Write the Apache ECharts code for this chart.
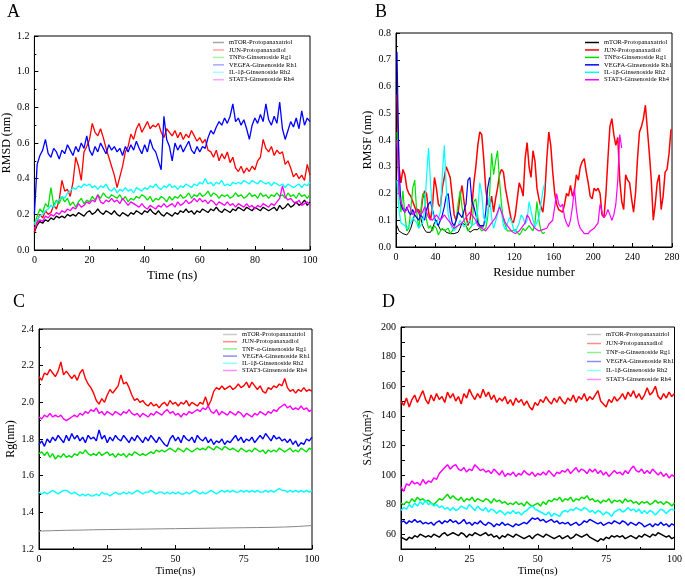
<!DOCTYPE html>
<html>
<head>
<meta charset="utf-8">
<script src="https://cdn.jsdelivr.net/npm/echarts@6/dist/echarts.min.js"></script>
<style>html,body{margin:0;padding:0;background:#fff}#c{width:685px;height:580px}</style>
</head>
<body>
<div id="c"></div>
<script>
// ---------- Names ----------
const namesAB = ['mTOR-Protopanaxatriol','JUN-Protopanaxadiol','TNFα-Ginsenoside Rg1','VEGFA-Ginsenoside Rh1','IL-1β-Ginsenoside Rh2','STAT3-Ginsenoside Rh4'];
const namesCD = ['mTOR-Protopanaxatriol','JUN-Protopanaxadiol','TNF-α-Ginsenoside Rg1','VEGFA-Ginsenoside Rh1','IL-1β-Ginsenoside Rh2','STAT3-Ginsenoside Rh4'];

// ---------- Panel A: RMSD (nm), one value per ns, 0..100 ----------
const rmsdMTOR = [0.10,0.14,0.16,0.15,0.17,0.16,0.18,0.17,0.19,0.18, 0.19,0.18,0.20,0.19,0.20,0.19,0.21,0.20,0.19,0.21, 0.22,0.20,0.21,0.23,0.21,0.20,0.22,0.21,0.20,0.22, 0.20,0.19,0.21,0.20,0.19,0.21,0.20,0.22,0.21,0.20, 0.22,0.21,0.23,0.21,0.20,0.22,0.20,0.19,0.21,0.20, 0.19,0.21,0.20,0.22,0.21,0.23,0.21,0.22,0.20,0.22, 0.21,0.23,0.22,0.21,0.23,0.22,0.24,0.22,0.21,0.23, 0.22,0.21,0.23,0.22,0.24,0.23,0.22,0.24,0.23,0.22, 0.24,0.23,0.22,0.24,0.23,0.22,0.23,0.24,0.22,0.25, 0.23,0.24,0.26,0.24,0.25,0.27,0.25,0.26,0.28,0.25,0.27];
const rmsdJUN = [0.10,0.16,0.20,0.18,0.22,0.20,0.21,0.25,0.23,0.28, 0.39,0.33,0.34,0.30,0.38,0.52,0.47,0.39,0.55,0.58, 0.62,0.71,0.66,0.64,0.68,0.63,0.57,0.52,0.47,0.42, 0.35,0.41,0.47,0.55,0.58,0.65,0.62,0.68,0.71,0.66, 0.69,0.72,0.68,0.70,0.69,0.71,0.66,0.63,0.68,0.66, 0.64,0.67,0.63,0.66,0.62,0.65,0.63,0.67,0.64,0.61, 0.63,0.60,0.62,0.56,0.55,0.52,0.56,0.50,0.54,0.51, 0.55,0.49,0.52,0.46,0.44,0.47,0.43,0.46,0.44,0.47, 0.45,0.50,0.52,0.62,0.57,0.55,0.58,0.53,0.56,0.54, 0.55,0.48,0.50,0.46,0.41,0.43,0.40,0.42,0.39,0.48,0.42];
const rmsdTNF = [0.14,0.19,0.23,0.21,0.26,0.24,0.35,0.25,0.28,0.26, 0.30,0.27,0.29,0.25,0.27,0.24,0.27,0.29,0.26,0.28, 0.27,0.30,0.28,0.31,0.29,0.32,0.30,0.29,0.31,0.30, 0.29,0.31,0.28,0.30,0.27,0.29,0.28,0.30,0.29,0.31, 0.30,0.28,0.30,0.27,0.29,0.28,0.30,0.29,0.27,0.30, 0.28,0.30,0.29,0.31,0.29,0.30,0.32,0.29,0.31,0.30, 0.32,0.30,0.31,0.33,0.30,0.32,0.31,0.29,0.31,0.30, 0.31,0.29,0.30,0.32,0.30,0.31,0.29,0.30,0.32,0.30, 0.31,0.29,0.32,0.30,0.31,0.29,0.31,0.30,0.32,0.30, 0.31,0.29,0.32,0.30,0.31,0.29,0.32,0.30,0.31,0.29,0.31];
const rmsdVEGFA = [0.20,0.48,0.53,0.56,0.62,0.54,0.52,0.57,0.55,0.51, 0.56,0.54,0.59,0.56,0.53,0.58,0.55,0.60,0.57,0.64, 0.56,0.53,0.58,0.55,0.60,0.57,0.54,0.59,0.56,0.58, 0.55,0.57,0.53,0.58,0.55,0.59,0.56,0.61,0.57,0.54, 0.59,0.55,0.62,0.57,0.55,0.50,0.45,0.75,0.62,0.58, 0.50,0.60,0.56,0.59,0.55,0.58,0.61,0.56,0.54,0.58, 0.55,0.58,0.57,0.63,0.67,0.65,0.69,0.72,0.70,0.74, 0.71,0.75,0.82,0.72,0.74,0.70,0.73,0.68,0.62,0.70, 0.74,0.71,0.76,0.72,0.82,0.73,0.70,0.75,0.71,0.83, 0.68,0.62,0.67,0.72,0.69,0.74,0.68,0.78,0.70,0.74,0.72];
const rmsdIL1B = [0.15,0.17,0.19,0.20,0.22,0.23,0.25,0.24,0.27,0.28, 0.30,0.29,0.32,0.33,0.35,0.34,0.36,0.35,0.37,0.36, 0.37,0.35,0.36,0.34,0.36,0.35,0.37,0.34,0.33,0.35, 0.32,0.34,0.33,0.35,0.33,0.34,0.32,0.35,0.34,0.33, 0.35,0.34,0.36,0.35,0.37,0.35,0.34,0.36,0.35,0.37, 0.35,0.36,0.34,0.36,0.35,0.37,0.36,0.35,0.37,0.36, 0.38,0.37,0.40,0.37,0.38,0.36,0.38,0.37,0.39,0.36, 0.37,0.36,0.38,0.37,0.38,0.37,0.39,0.38,0.37,0.39, 0.38,0.37,0.39,0.38,0.37,0.38,0.36,0.38,0.37,0.36, 0.37,0.35,0.37,0.36,0.35,0.36,0.37,0.35,0.37,0.36,0.38];
const rmsdSTAT3 = [0.12,0.15,0.17,0.16,0.19,0.18,0.20,0.19,0.21,0.20, 0.22,0.21,0.23,0.22,0.24,0.23,0.26,0.24,0.25,0.27, 0.26,0.28,0.27,0.31,0.27,0.26,0.28,0.27,0.29,0.27, 0.28,0.26,0.29,0.27,0.25,0.27,0.26,0.25,0.24,0.26, 0.24,0.23,0.25,0.24,0.23,0.25,0.24,0.26,0.24,0.25, 0.26,0.24,0.27,0.25,0.26,0.28,0.26,0.27,0.29,0.27, 0.29,0.27,0.28,0.26,0.28,0.27,0.25,0.27,0.26,0.25, 0.27,0.25,0.26,0.24,0.26,0.25,0.24,0.26,0.24,0.25, 0.23,0.25,0.24,0.26,0.25,0.24,0.26,0.25,0.27,0.29, 0.36,0.30,0.28,0.29,0.27,0.26,0.28,0.25,0.26,0.27,0.25];

// ---------- Panel B: RMSF (nm), residues 1,3,5,... ----------
const rmsfMTOR = [0.08,0.06,0.06,0.05,0.05,0.045,0.055,0.07,0.095,0.125, 0.145,0.14,0.11,0.08,0.065,0.055,0.05,0.055,0.07,0.09, 0.10,0.08,0.065,0.06,0.065,0.055,0.05,0.05,0.045,0.05, 0.045,0.055,0.07,0.09,0.095,0.08,0.065,0.055,0.055,0.065, 0.065,0.065,0.075,0.08,0.075];
const rmsfJUN = [0.57,0.30,0.24,0.29,0.27,0.22,0.20,0.19,0.17,0.15, 0.13,0.14,0.12,0.18,0.21,0.20,0.13,0.10,0.15,0.26, 0.22,0.16,0.15,0.22,0.26,0.30,0.30,0.26,0.19,0.12, 0.10,0.13,0.19,0.23,0.17,0.12,0.08,0.10,0.15,0.24, 0.30,0.38,0.43,0.42,0.33,0.22,0.16,0.15,0.19,0.13, 0.18,0.22,0.27,0.29,0.28,0.22,0.18,0.14,0.10,0.09, 0.12,0.18,0.24,0.22,0.19,0.33,0.39,0.30,0.26,0.36, 0.32,0.22,0.18,0.15,0.13,0.20,0.33,0.43,0.38,0.28, 0.20,0.16,0.14,0.14,0.13,0.16,0.20,0.19,0.23,0.19, 0.21,0.27,0.25,0.30,0.32,0.33,0.28,0.24,0.19,0.18, 0.22,0.21,0.22,0.20,0.12,0.11,0.20,0.33,0.45,0.48, 0.42,0.38,0.41,0.25,0.17,0.14,0.27,0.25,0.24,0.18, 0.13,0.20,0.33,0.43,0.45,0.48,0.53,0.44,0.35,0.25, 0.10,0.16,0.24,0.27,0.14,0.19,0.28,0.29,0.35,0.44];
const rmsfTNF = [0.43,0.22,0.13,0.21,0.12,0.06,0.07,0.14,0.22,0.25, 0.13,0.07,0.12,0.20,0.19,0.10,0.07,0.08,0.06,0.08, 0.07,0.045,0.06,0.07,0.06,0.06,0.07,0.05,0.06,0.07, 0.10,0.16,0.21,0.15,0.10,0.08,0.06,0.06,0.08,0.17, 0.18,0.11,0.07,0.06,0.06,0.07,0.11,0.20,0.35,0.27, 0.32,0.36,0.25,0.16,0.10,0.08,0.06,0.06,0.06,0.06, 0.065,0.06,0.045,0.055,0.07,0.06,0.07,0.08,0.07,0.06, 0.09,0.17,0.10,0.06,0.05,0.055];
const rmsfVEGFA = [0.73,0.30,0.16,0.14,0.13,0.15,0.13,0.12,0.14,0.12, 0.11,0.10,0.12,0.11,0.10,0.14,0.16,0.17,0.14,0.11, 0.09,0.08,0.10,0.12,0.15,0.19,0.20,0.13,0.09,0.08, 0.10,0.13,0.13,0.11,0.11,0.16,0.25,0.26,0.17,0.15, 0.12,0.09,0.08,0.08,0.08,0.13,0.22,0.26];
const rmsfIL1B = [0.25,0.14,0.09,0.09,0.08,0.07,0.07,0.09,0.11,0.11, 0.09,0.07,0.075,0.09,0.14,0.26,0.37,0.24,0.13,0.10, 0.085,0.09,0.13,0.27,0.38,0.22,0.12,0.09,0.07,0.06, 0.065,0.08,0.10,0.10,0.075,0.07,0.09,0.10,0.08,0.075, 0.09,0.14,0.24,0.20,0.11,0.09,0.13,0.19,0.11,0.07, 0.07,0.12,0.16,0.13,0.08,0.065,0.07,0.11,0.10,0.07, 0.055,0.06,0.09,0.12,0.11,0.085,0.10,0.17,0.17,0.10, 0.075,0.08,0.11,0.16,0.21,0.24];
const rmsfSTAT3 = [0.40,0.20,0.17,0.15,0.13,0.14,0.16,0.14,0.12,0.13, 0.14,0.13,0.12,0.13,0.15,0.13,0.11,0.105,0.10,0.11, 0.12,0.11,0.10,0.11,0.12,0.11,0.10,0.09,0.08,0.07, 0.07,0.08,0.085,0.09,0.10,0.11,0.12,0.13,0.13,0.11, 0.10,0.08,0.075,0.07,0.065,0.06,0.065,0.08,0.09,0.10, 0.11,0.13,0.15,0.15,0.11,0.09,0.08,0.07,0.06,0.055, 0.05,0.055,0.06,0.065,0.08,0.09,0.12,0.11,0.09,0.08, 0.07,0.065,0.06,0.06,0.065,0.06,0.07,0.085,0.09,0.10, 0.15,0.20,0.16,0.15,0.16,0.11,0.09,0.075,0.10,0.15, 0.22,0.14,0.09,0.07,0.06,0.05,0.045,0.05,0.06,0.065, 0.07,0.08,0.09,0.16,0.13,0.11,0.12,0.14,0.12,0.10, 0.12,0.16,0.25,0.42,0.37];

// ---------- Panel C: Rg (nm), one value per ns (mTOR every 5 ns) ----------
const rgMTOR = [1.298,1.300,1.302,1.303,1.305,1.306,1.307,1.308,1.309,1.310,1.311,1.312,1.313,1.314,1.315,1.316,1.317,1.318,1.320,1.323,1.328];
const rgJUN = [2.14,2.12,2.16,2.15,2.18,2.16,2.14,2.17,2.22,2.15, 2.17,2.15,2.13,2.15,2.12,2.16,2.18,2.13,2.10,2.08, 2.05,2.01,1.99,2.02,2.00,2.04,2.07,2.05,2.07,2.09, 2.15,2.10,2.11,2.08,2.04,2.01,2.02,2.00,2.01,1.99, 1.98,2.00,1.98,1.99,1.97,1.99,2.00,1.98,2.01,1.99, 2.00,1.98,2.00,1.99,2.01,1.98,2.00,1.99,1.98,2.00, 1.99,2.03,1.98,2.01,2.06,2.08,2.07,2.09,2.07,2.08, 2.09,2.07,2.08,2.10,2.08,2.09,2.11,2.08,2.11,2.09, 2.07,2.09,2.06,2.05,2.08,2.07,2.09,2.08,2.10,2.09, 2.13,2.08,2.06,2.07,2.05,2.07,2.06,2.08,2.06,2.07,2.06];
const rgTNF = [1.72,1.73,1.71,1.73,1.70,1.72,1.69,1.71,1.70,1.72, 1.70,1.71,1.70,1.72,1.71,1.73,1.72,1.74,1.72,1.71, 1.72,1.71,1.73,1.71,1.72,1.73,1.71,1.72,1.70,1.72, 1.71,1.72,1.70,1.72,1.71,1.73,1.72,1.71,1.72,1.71, 1.72,1.73,1.72,1.74,1.73,1.74,1.73,1.74,1.75,1.74, 1.73,1.75,1.74,1.73,1.75,1.74,1.73,1.74,1.75,1.74, 1.75,1.74,1.76,1.75,1.74,1.76,1.75,1.74,1.76,1.75, 1.74,1.75,1.74,1.73,1.75,1.74,1.73,1.74,1.73,1.75, 1.74,1.73,1.74,1.72,1.74,1.73,1.74,1.73,1.75,1.74, 1.73,1.74,1.75,1.73,1.74,1.73,1.75,1.74,1.73,1.75,1.74];
const rgVEGFA = [1.77,1.79,1.76,1.80,1.78,1.81,1.79,1.82,1.80,1.78, 1.82,1.79,1.83,1.80,1.82,1.79,1.81,1.78,1.82,1.80, 1.81,1.79,1.85,1.80,1.82,1.78,1.81,1.79,1.82,1.80, 1.79,1.82,1.80,1.78,1.81,1.79,1.82,1.80,1.78,1.81, 1.79,1.82,1.80,1.78,1.81,1.79,1.77,1.76,1.80,1.82, 1.79,1.81,1.78,1.82,1.80,1.79,1.81,1.78,1.82,1.80, 1.79,1.81,1.78,1.80,1.77,1.79,1.78,1.80,1.77,1.79, 1.78,1.80,1.82,1.79,1.81,1.78,1.80,1.79,1.81,1.78, 1.80,1.82,1.80,1.83,1.81,1.79,1.82,1.80,1.81,1.79, 1.80,1.78,1.80,1.77,1.79,1.76,1.78,1.77,1.80,1.79,1.81];
const rgIL1B = [1.51,1.50,1.51,1.50,1.51,1.52,1.51,1.50,1.51,1.52, 1.52,1.51,1.50,1.51,1.50,1.49,1.50,1.49,1.50,1.49, 1.49,1.50,1.49,1.51,1.50,1.50,1.49,1.50,1.51,1.50, 1.50,1.51,1.50,1.51,1.50,1.51,1.52,1.51,1.50,1.51, 1.51,1.52,1.51,1.50,1.51,1.51,1.50,1.51,1.50,1.51, 1.50,1.51,1.50,1.50,1.51,1.50,1.51,1.52,1.51,1.50, 1.51,1.50,1.51,1.52,1.51,1.50,1.51,1.52,1.51,1.52, 1.51,1.52,1.51,1.51,1.52,1.51,1.52,1.51,1.52,1.51, 1.52,1.51,1.51,1.52,1.51,1.52,1.51,1.52,1.53,1.52, 1.52,1.51,1.52,1.51,1.52,1.51,1.52,1.51,1.52,1.51,1.52];
const rgSTAT3 = [1.92,1.91,1.93,1.92,1.94,1.92,1.93,1.92,1.93,1.91, 1.90,1.91,1.92,1.93,1.92,1.94,1.93,1.95,1.94,1.96, 1.95,1.97,1.94,1.95,1.93,1.95,1.94,1.93,1.95,1.94, 1.93,1.95,1.94,1.96,1.94,1.93,1.94,1.92,1.94,1.93, 1.92,1.94,1.93,1.95,1.94,1.93,1.95,1.96,1.94,1.95, 1.93,1.94,1.92,1.94,1.93,1.95,1.94,1.95,1.96,1.95, 1.97,1.96,1.98,1.95,1.94,1.96,1.93,1.95,1.94,1.93, 1.95,1.94,1.93,1.95,1.94,1.92,1.94,1.93,1.92,1.94, 1.93,1.95,1.94,1.93,1.95,1.94,1.96,1.95,1.97,1.98, 1.99,1.97,1.98,1.96,1.97,1.96,1.98,1.96,1.97,1.95,1.96];

// ---------- Panel D: SASA (nm²), one value per ns ----------
const sasaMTOR = [58,57,56,58,57,59,58,60,59,58, 59,58,60,59,58,60,61,59,60,61, 60,59,61,60,58,60,59,61,60,59, 60,61,59,60,58,59,57,59,58,60, 59,58,60,59,58,57,58,59,57,59, 60,59,58,60,59,58,57,58,59,57, 58,59,57,58,60,59,58,59,60,58, 57,56,55,57,56,58,57,59,58,59, 58,59,57,58,59,58,57,59,58,60, 59,58,60,59,61,60,59,58,59,57,58];
const sasaJUN = [150,147,152,146,151,154,149,153,157,151, 148,154,150,155,151,153,149,156,152,155, 150,153,148,155,152,158,154,151,155,152, 158,153,156,151,154,149,152,150,153,148, 151,147,152,149,151,147,150,146,144,149, 147,151,149,153,150,148,152,149,153,150, 148,152,150,154,149,153,151,155,150,153, 151,154,157,150,148,146,151,149,153,150, 152,155,151,156,153,157,152,155,151,154, 159,154,156,160,153,151,155,152,156,153,155];
const sasaTNF = [81,80,82,81,84,82,85,83,84,82, 83,81,80,82,84,83,85,87,84,86, 84,83,85,82,84,83,85,82,84,83, 82,84,83,81,84,82,83,81,82,80, 81,80,82,80,81,79,82,80,79,80, 81,79,82,80,83,82,84,83,85,82, 84,83,85,82,84,83,85,84,86,83, 84,82,83,81,83,82,84,81,83,82, 83,81,84,82,83,81,82,80,82,81, 82,80,81,83,81,82,80,82,81,79,81];
const sasaVEGFA = [68,69,67,69,68,70,68,69,67,68, 67,68,66,68,69,67,69,68,70,68, 69,67,68,70,67,68,66,68,67,69, 67,66,68,67,65,67,66,68,66,67, 66,65,67,66,67,68,67,69,71,70, 71,69,70,68,69,70,68,69,67,68, 67,68,66,67,68,66,67,69,68,70, 69,68,67,68,66,67,68,67,69,68, 67,69,68,66,68,67,66,68,67,65, 66,67,65,67,66,68,66,67,65,67,66];
const sasaIL1B = [76,78,77,80,78,81,79,82,80,83, 80,81,79,80,78,79,77,78,76,78, 76,77,79,78,77,80,78,76,79,77, 76,78,75,77,76,74,76,75,73,75, 74,76,74,75,73,75,76,78,79,77, 76,75,74,73,75,72,74,73,72,75, 76,75,77,76,78,77,76,78,77,75, 76,74,76,75,73,75,74,72,75,76, 77,75,76,78,76,77,75,77,74,76, 74,76,75,73,75,77,76,74,76,77,76];
const sasaSTAT3 = [92,89,94,93,96,94,95,93,97,94, 96,95,98,97,101,103,105,107,104,106, 107,104,103,105,102,104,103,107,105,103, 104,102,103,101,104,102,100,103,99,101, 100,102,99,101,100,103,101,100,102,99, 101,100,102,100,103,101,99,102,101,103, 102,104,101,103,105,102,104,103,101,104, 102,104,101,103,100,102,99,101,103,101, 102,100,103,101,104,106,103,102,104,101, 103,101,104,102,100,102,99,101,98,100,99];

// ---------- Build ----------
const F = 'Liberation Serif';
const COLORS = ['#000000','#ff0000','#00e000','#0000ff','#00ffff','#ff00ff'];
const COLORS_C = ['#888888','#ff0000','#00e000','#0000ff','#00ffff','#ff00ff'];
const byTime = (vals, step) => vals.map((v, i) => [i * step, v]);
const byResidue = vals => vals.map((v, i) => [1 + 2 * i, v]);

const series = [];
function addPanel(gi, names, sets, colors, widths) {
  sets.forEach((pts, k) => {
    series.push({
      type: 'line', name: names[k], xAxisIndex: gi, yAxisIndex: gi,
      data: pts, showSymbol: false, symbol: 'none', animation: false,
      lineStyle: { color: colors[k], width: widths[k] }, itemStyle: { color: colors[k] }
    });
  });
}
addPanel(0, namesAB, [rmsdMTOR, rmsdJUN, rmsdTNF, rmsdVEGFA, rmsdIL1B, rmsdSTAT3].map(a => byTime(a, 1)), COLORS, [1.3,1.3,1.3,1.3,1.3,1.3]);
addPanel(1, namesAB, [rmsfMTOR, rmsfJUN, rmsfTNF, rmsfVEGFA, rmsfIL1B, rmsfSTAT3].map(byResidue), COLORS, [1,1.5,1.2,1.2,1.2,1.2]);
addPanel(2, namesCD, [byTime(rgMTOR, 5), byTime(rgJUN, 1), byTime(rgTNF, 1), byTime(rgVEGFA, 1), byTime(rgIL1B, 1), byTime(rgSTAT3, 1)],
  COLORS_C, [1,1.4,1.4,1.4,1.4,1.4]);
addPanel(3, namesCD, [sasaMTOR, sasaJUN, sasaTNF, sasaVEGFA, sasaIL1B, sasaSTAT3].map(a => byTime(a, 1)), COLORS, [1.5,1.5,1.5,1.5,1.5,1.5]);

const grids = [
  { left: 33, top: 36, width: 277, height: 214 },
  { left: 396, top: 33, width: 276, height: 214 },
  { left: 39, top: 329, width: 273, height: 220 },
  { left: 401, top: 327, width: 276, height: 222 }
].map(g => Object.assign(g, { show: true, borderColor: '#000', borderWidth: 1, backgroundColor: 'transparent' }));

function axisBase(gi, min, max, interval, name, nameGap, nameSize, fmt, minor) {
  return {
    type: 'value', gridIndex: gi, min, max, interval, name, nameLocation: 'middle', nameGap,
    nameTextStyle: { fontFamily: F, fontSize: nameSize, color: '#000' },
    axisLine: { show: true, onZero: false, lineStyle: { color: '#000', width: 1 } },
    axisTick: { show: true, inside: true, length: 4, lineStyle: { color: '#000' } },
    minorTick: { show: minor, splitNumber: 2, length: 2, lineStyle: { color: '#000' } },
    splitLine: { show: false }, minorSplitLine: { show: false },
    axisLabel: { fontFamily: F, fontSize: 10, color: '#000', margin: 5, formatter: fmt }
  };
}
const f1 = v => v.toFixed(1);
const f0 = v => String(Math.round(v));
const xAxis = [
  axisBase(0, 0, 100, 20, 'Time (ns)', 19, 13, f0, true),
  axisBase(1, 0, 280, 40, 'Residue number', 19, 12.5, f0, true),
  axisBase(2, 0, 100, 25, 'Time(ns)', 17, 11, f0, true),
  axisBase(3, 0, 100, 25, 'Time(ns)', 17, 11, f0, true)
];
const yAxis = [
  axisBase(0, 0, 1.2, 0.2, 'RMSD (nm)', 20, 12, f1, true),
  axisBase(1, 0, 0.8, 0.1, 'RMSF (nm)', 22, 12, f1, true),
  axisBase(2, 1.2, 2.4, 0.2, 'Rg(nm)', 22, 12, f1, true),
  axisBase(3, 50, 200, 10, 'SASA(nm²)', 27, 11.5, v => (v % 20 === 0 ? String(v) : ''), false)
];

function legend(left, top, names, cols, opacity, gap, iw) {
  return {
    orient: 'vertical', left, top, padding: 0, itemGap: gap, itemWidth: iw, itemHeight: 1.5,
    selectedMode: false,
    textStyle: { fontFamily: F, fontSize: 6.5, color: '#000', lineHeight: 7 },
    data: names.map((n, k) => ({ name: n, icon: 'rect', itemStyle: { color: cols[k], opacity, borderWidth: 0 } }))
  };
}

const chart = echarts.init(document.getElementById('c'), null, { renderer: 'canvas' });
chart.setOption({
  backgroundColor: '#fff',
  animation: false,
  title: [
    { text: 'A', left: 7, top: 3 },
    { text: 'B', left: 375, top: 3 },
    { text: 'C', left: 13, top: 293 },
    { text: 'D', left: 382, top: 293 }
  ].map(t => Object.assign(t, { padding: 0, textStyle: { fontFamily: F, fontSize: 18, fontWeight: 'normal', color: '#000' } })),
  legend: [
    legend(213, 39, namesAB, COLORS, 0.35, 0.45, 11),
    legend(585, 39, namesAB, COLORS, 1, 0.45, 14),
    legend(223, 331, namesCD, COLORS_C, 0.45, 0.2, 14),
    legend(587, 331, namesCD, COLORS_C, 0.45, 2, 14)
  ],
  grid: grids,
  xAxis, yAxis,
  series
});
</script>
</body>
</html>
